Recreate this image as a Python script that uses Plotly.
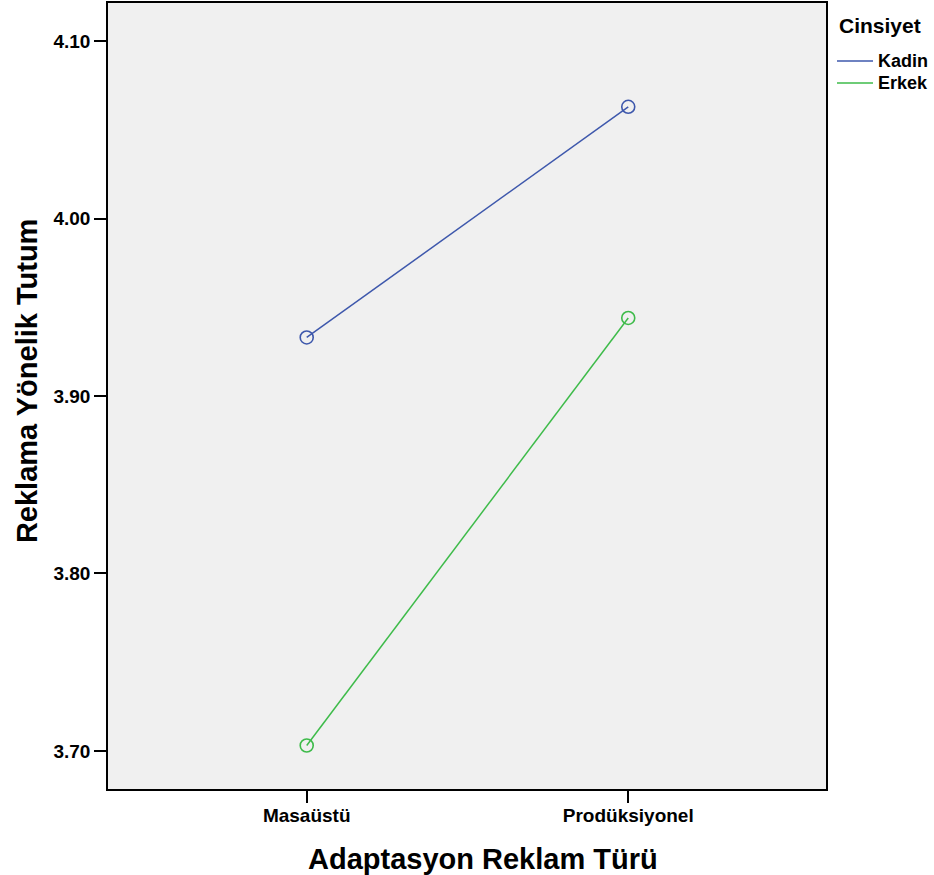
import plotly.graph_objects as go

categories = ["Masaüstü", "Prodüksiyonel"]
kadin = [3.933, 4.063]
erkek = [3.703, 3.944]
series_names = ["Kadin", "Erkek"]
colors = ["#3e58ac", "#3ebb4a"]
y_ticks = [3.70, 3.80, 3.90, 4.00, 4.10]
y_ticktext = ["3.70", "3.80", "3.90", "4.00", "4.10"]
legend_title = "Cinsiyet"
x_title = "Adaptasyon Reklam Türü"
y_title = "Reklama Yönelik Tutum"

FONT = "Liberation Sans, Arial, Helvetica, sans-serif"

fig = go.Figure()
for name, vals, col in zip(series_names, [kadin, erkek], colors):
    fig.add_trace(go.Scatter(x=categories, y=vals, mode="lines+markers", name=name,
                             line=dict(color=col, width=1.5),
                             marker=dict(symbol="circle-open", size=13, color=col,
                                         line=dict(width=1.6, color=col)),
                             showlegend=False))

# manual legend (paper coords)
fig.add_annotation(text="<b>%s</b>" % legend_title, xref="paper", yref="paper",
                   x=1.0155, y=0.971, xanchor="left", yanchor="middle", showarrow=False,
                   font=dict(size=21, family=FONT, color="black"))
leg_y = [0.9262, 0.8982]
for name, col, yy in zip(series_names, colors, leg_y):
    fig.add_shape(type="line", xref="paper", yref="paper", x0=1.0153, x1=1.0655, y0=yy, y1=yy,
                  line=dict(color=col, width=1.5))
    fig.add_annotation(text="<b>%s</b>" % name, xref="paper", yref="paper",
                       x=1.069, y=yy, xanchor="left", yanchor="middle", showarrow=False,
                       font=dict(size=18, family=FONT, color="black"))

# axis titles
fig.add_annotation(text="<b>%s</b>" % x_title, xref="paper", yref="paper",
                   x=0.5223, y=-0.0885, xanchor="center", yanchor="middle", showarrow=False,
                   font=dict(size=29, family=FONT, color="black"))
fig.add_annotation(text="<b>%s</b>" % y_title, xref="paper", yref="paper",
                   x=-0.1128, y=0.519, xanchor="center", yanchor="middle", showarrow=False,
                   textangle=-90, font=dict(size=29, family=FONT, color="black"))

fig.update_layout(
    width=934, height=875,
    margin=dict(l=108, r=108, t=3, b=86, autoexpand=False),
    paper_bgcolor="white",
    plot_bgcolor="#f0f0f0",
    font=dict(family=FONT, color="black"),
    showlegend=False,
)
fig.update_xaxes(
    type="category",
    range=[-0.618, 1.615],
    showgrid=False, zeroline=False, automargin=False,
    showline=True, linecolor="black", linewidth=1.5, mirror=True,
    ticks="outside", ticklen=12, tickwidth=2, tickcolor="black",
    ticklabelstandoff=-4,
    tickfont=dict(size=19, family=FONT, weight="bold"),
)
fig.update_yaxes(
    range=[3.6785, 4.1215],
    tickvals=y_ticks, ticktext=y_ticktext,
    showgrid=False, zeroline=False, automargin=False,
    showline=True, linecolor="black", linewidth=1.5, mirror=True,
    ticks="outside", ticklen=12, tickwidth=2, tickcolor="black",
    tickfont=dict(size=19, family=FONT, weight="bold"),
)

fig.write_html("out.html", config={"displayModeBar": False},
               post_script="document.body.style.margin='0';")
